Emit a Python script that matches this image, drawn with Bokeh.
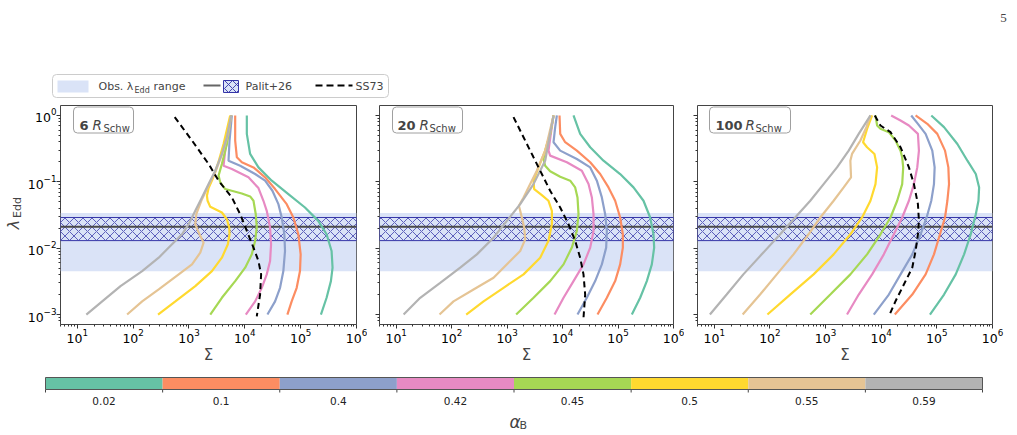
import math
from bokeh.plotting import figure
from bokeh.layouts import column, row
from bokeh.models import (BoxAnnotation, Span, Label, PolyAnnotation, FixedTicker,
                          Range1d, CustomJSTickFormatter)
from bokeh.core.properties import value
from bokeh.embed import file_html
from bokeh.resources import INLINE

# ---------------- data ----------------
ALPHA_B = ["0.02", "0.1", "0.4", "0.42", "0.45", "0.5", "0.55", "0.59"]
COLORS = ["#66c2a5", "#fc8d62", "#8da0cb", "#e78ac3", "#a6d854", "#ffd92f", "#e5c494", "#b3b3b3"]
RADII = ["6", "20", "100"]
OBS_RANGE = [0.0045, 0.034]
PALIT_RANGE = [0.013, 0.029]
PALIT_MEDIAN = 0.021
X_TICKS = [1e1, 1e2, 1e3, 1e4, 1e5, 1e6]
Y_TICKS = [1e-3, 1e-2, 1e-1, 1e0]

# --- 6 R_Schw ---
l6_a002 = [0.001, 0.00179, 0.00319, 0.00508, 0.00908, 0.0162, 0.0258, 0.041, 0.0653, 0.104, 0.165, 0.263, 0.528, 1.0]
s6_a002 = [230700, 291200, 348100, 372600, 358000, 291200, 206700, 119500, 60250, 30360, 17540, 12450, 10860, 10860]
l6_a01 = [0.001, 0.00158, 0.00253, 0.00452, 0.00807, 0.0162, 0.029, 0.0461, 0.0778, 0.117, 0.165, 0.197, 0.234, 0.419, 1.0]
s6_a01 = [57800, 69040, 84860, 97270, 100000, 90870, 73970, 56230, 34820, 23070, 14290, 8840, 7200, 6718, 6718]
l6_a04 = [0.001, 0.00158, 0.00253, 0.00452, 0.00908, 0.0162, 0.029, 0.0461, 0.0733, 0.104, 0.131, 0.175, 0.208, 0.419, 1.0]
s6_a04 = [25410, 34820, 42740, 48980, 52470, 51080, 45780, 39930, 31190, 23070, 15300, 8260, 5107, 5323, 5858]
l6_a042 = [0.001, 0.00158, 0.00253, 0.00403, 0.0064, 0.01146, 0.0205, 0.0366, 0.0518, 0.0805, 0.117, 0.156, 0.175, 0.295, 0.528, 1.0]
s6_a042 = [10420, 15300, 20130, 24700, 28340, 29520, 28340, 24700, 21530, 17540, 11620, 5858, 4157, 4454, 5107, 5700]
l6_a045 = [0.001, 0.00179, 0.00319, 0.00508, 0.00807, 0.0129, 0.0205, 0.0325, 0.0518, 0.0602, 0.0668, 0.0778, 0.098, 0.124, 0.186, 0.372, 1.0]
s6_a045 = [2404, 3882, 6718, 10140, 13340, 15300, 16370, 15700, 14290, 12450, 8840, 4454, 3630, 3388, 3882, 4773, 5700]
l6_a05 = [0.001, 0.00158, 0.00268, 0.00452, 0.00719, 0.01146, 0.0162, 0.0205, 0.0273, 0.0345, 0.042, 0.0518, 0.0617, 0.0805, 0.11, 0.186, 0.372, 1.0]
s6_a05 = [279, 570, 1297, 2575, 3882, 4970, 5323, 5250, 4773, 3882, 2404, 2154, 2096, 2244, 2648, 3296, 4157, 5470]
l6_a055 = [0.001, 0.00158, 0.00239, 0.00403, 0.0057, 0.00856, 0.0121, 0.0182, 0.023, 0.0325, 0.0518, 0.0925, 0.147, 0.263, 0.47, 1.0]
s6_a055 = [78, 145, 287, 654, 1132, 1593, 1828, 1449, 1297, 1352, 1660, 2307, 3034, 3937, 4840, 5700]
l6_a059 = [0.001, 0.00158, 0.00268, 0.00452, 0.00719, 0.01146, 0.0162, 0.023, 0.0366, 0.0582, 0.0925, 0.147, 0.263, 0.47, 1.0]
s6_a059 = [14.5, 27.9, 59.4, 145, 287, 497, 750, 986, 1297, 1708, 2244, 2951, 3882, 4773, 5700]
l6_ss73 = [0.944, 0.419, 0.186, 0.104, 0.0582, 0.0325, 0.0182, 0.0102, 0.0064, 0.00403, 0.002, 0.00094]
s6_ss73 = [555, 1132, 2244, 3388, 5858, 8260, 10860, 14290, 17540, 19580, 18760, 16370]

# --- 20 R_Schw ---
l20_a002 = [0.001, 0.00179, 0.00319, 0.0057, 0.0102, 0.0162, 0.029, 0.0518, 0.0824, 0.131, 0.208, 0.332, 0.528, 1.0]
s20_a002 = [177400, 250600, 330400, 406700, 448100, 435700, 379500, 287700, 190100, 109200, 54700, 31480, 20750, 15740]
l20_a01 = [0.001, 0.00179, 0.00319, 0.0057, 0.0102, 0.0162, 0.029, 0.0518, 0.0824, 0.131, 0.197, 0.295, 0.395, 0.528, 1.0]
s20_a01 = [42660, 62810, 88750, 109200, 122100, 122100, 109200, 88750, 67300, 47640, 31480, 18080, 11140, 9060, 8810]
l20_a04 = [0.001, 0.00179, 0.00319, 0.0057, 0.0102, 0.0182, 0.0325, 0.0582, 0.104, 0.165, 0.221, 0.295, 0.395, 0.667, 1.0]
s20_a04 = [18580, 27370, 38710, 51050, 61090, 62810, 58610, 51050, 41480, 31480, 18080, 9060, 6870, 7360, 7890]
l20_a042 = [0.001, 0.00179, 0.00319, 0.0057, 0.0102, 0.0182, 0.0325, 0.0582, 0.0925, 0.147, 0.197, 0.248, 0.295, 0.528, 1.0]
s20_a042 = [7160, 10400, 15740, 23830, 31480, 36140, 36140, 33730, 29380, 22240, 11940, 5970, 5572, 6140, 6870]
l20_a045 = [0.001, 0.00179, 0.00319, 0.0057, 0.0102, 0.0182, 0.0325, 0.0582, 0.0824, 0.104, 0.119, 0.144, 0.175, 0.221, 0.332, 0.528, 1.0]
s20_a045 = [1456, 2992, 5970, 10400, 14690, 18080, 19370, 18580, 16870, 13710, 9060, 5970, 4853, 4529, 5058, 5970, 6870]
l20_a05 = [0.001, 0.00158, 0.00253, 0.00403, 0.00719, 0.0129, 0.023, 0.0366, 0.0518, 0.0631, 0.0778, 0.104, 0.165, 0.295, 0.528, 1.0]
s20_a05 = [183, 376, 861, 1977, 3946, 5572, 6412, 6412, 5572, 4227, 3076, 2992, 3681, 4853, 5970, 6870]
l20_a055 = [0.001, 0.00158, 0.00239, 0.00358, 0.0064, 0.00908, 0.0136, 0.0205, 0.0366, 0.0435, 0.0582, 0.0925, 0.147, 0.295, 1.0]
s20_a055 = [60.4, 108, 248, 569, 1135, 1722, 2118, 2032, 1722, 1630, 1977, 2606, 3436, 4853, 6870]
l20_a059 = [0.001, 0.00179, 0.00301, 0.00508, 0.00807, 0.0144, 0.0258, 0.0461, 0.0925, 0.208, 1.0]
s20_a059 = [13.6, 27.1, 62.1, 142.6, 284.7, 569, 989, 1722, 2992, 4853, 6870]
l20_ss73 = [0.944, 0.47, 0.234, 0.131, 0.0733, 0.041, 0.023, 0.0129, 0.00719, 0.00403, 0.002, 0.00089]
s20_ss73 = [1303, 1977, 2992, 4227, 5970, 9060, 12790, 16870, 20750, 23830, 25550, 23830]

# --- 100 R_Schw ---
l100_a002 = [0.001, 0.002, 0.00403, 0.00807, 0.0162, 0.0325, 0.0518, 0.0824, 0.131, 0.208, 0.372, 0.667, 1.0]
s100_a002 = [75200, 134500, 218300, 308500, 406700, 501100, 559500, 575200, 501100, 354200, 233800, 134500, 79450]
l100_a01 = [0.001, 0.002, 0.00403, 0.00807, 0.0162, 0.029, 0.0518, 0.0925, 0.165, 0.295, 0.528, 0.748, 1.0]
s100_a01 = [17580, 36140, 62810, 88750, 113800, 140200, 154500, 165500, 161000, 140200, 101900, 67300, 41480]
l100_a04 = [0.001, 0.002, 0.00403, 0.00807, 0.0162, 0.029, 0.0518, 0.0925, 0.165, 0.295, 0.528, 0.748, 1.0]
s100_a04 = [7360, 13710, 22240, 36140, 51050, 65510, 79450, 88750, 91240, 82810, 62810, 45700, 34640]
l100_a042 = [0.001, 0.002, 0.00403, 0.00807, 0.0162, 0.029, 0.0518, 0.0925, 0.165, 0.295, 0.528, 0.706, 0.84, 1.0]
s100_a042 = [2432, 3946, 6868, 11140, 16870, 23830, 31480, 38710, 44460, 47640, 45700, 31480, 22240, 15100]
l100_a045 = [0.001, 0.002, 0.00403, 0.00807, 0.0162, 0.029, 0.0518, 0.0925, 0.165, 0.234, 0.295, 0.419, 0.56, 0.629, 0.706, 1.0]
s100_a045 = [531, 1217, 2792, 5572, 9700, 14690, 19370, 23830, 24850, 23830, 22240, 18080, 13710, 9700, 8450, 7890]
l100_a05 = [0.001, 0.002, 0.00403, 0.00807, 0.0162, 0.029, 0.0518, 0.0925, 0.165, 0.263, 0.332, 0.395, 0.629, 1.0]
s100_a05 = [90.3, 231, 609, 1397, 2792, 4529, 6412, 7890, 8450, 7566, 5572, 4723, 5572, 6868]
l100_a055 = [0.001, 0.002, 0.00403, 0.00807, 0.0162, 0.029, 0.0518, 0.0824, 0.117, 0.208, 0.263, 0.419, 0.667, 1.0]
s100_a055 = [32.4, 66.6, 133, 265.7, 495, 804, 1397, 2117, 2871, 2792, 2991, 4226, 5423, 6412]
l100_a059 = [0.001, 0.002, 0.00403, 0.00807, 0.0162, 0.029, 0.0518, 0.0925, 0.165, 0.295, 0.528, 1.0]
s100_a059 = [8.36, 16.7, 33.3, 71.3, 152.8, 284.5, 530.9, 923, 1606, 2605, 3946, 6412]
l100_ss73 = [1.0, 0.706, 0.56, 0.332, 0.165, 0.0925, 0.0461, 0.0258, 0.0162, 0.00908, 0.00508, 0.00284, 0.00159, 0.00094]
s100_ss73 = [7670, 9700, 14690, 22240, 31480, 38710, 45700, 47640, 45700, 41480, 36140, 25550, 18080, 13710]

PANELS = [
    ([s6_a002, s6_a01, s6_a04, s6_a042, s6_a045, s6_a05, s6_a055, s6_a059],
     [l6_a002, l6_a01, l6_a04, l6_a042, l6_a045, l6_a05, l6_a055, l6_a059], s6_ss73, l6_ss73),
    ([s20_a002, s20_a01, s20_a04, s20_a042, s20_a045, s20_a05, s20_a055, s20_a059],
     [l20_a002, l20_a01, l20_a04, l20_a042, l20_a045, l20_a05, l20_a055, l20_a059], s20_ss73, l20_ss73),
    ([s100_a002, s100_a01, s100_a04, s100_a042, s100_a045, s100_a05, s100_a055, s100_a059],
     [l100_a002, l100_a01, l100_a04, l100_a042, l100_a045, l100_a05, l100_a055, l100_a059], s100_ss73, l100_ss73),
]

# ---------------- style / geometry ----------------
FONT = "DejaVu Sans"
OBS_COLOR = "#dae3f7"
HATCH_COLOR = "#3535a8"
XLO, XHI = 5.0, 1e6
YLO, YHI = 10 ** -3.15, 10 ** 0.15
FH = 219
BOTTOM = 44
YLAB_W = 24
GEOM = [(36, 296, 11), (12, 294, 11), (13, 295, 25)]
BOXES = [(13, 73, 19, 32, 43), (13, 83, 18, 40, 50), (12, 93, 18, 48, 58)]
X_MINOR = [m * 10.0 ** e for e in range(0, 6) for m in range(2, 10)]
Y_MINOR = [m * 10.0 ** e for e in range(-4, 0) for m in range(2, 10)]


def fx(off, fw):
    lx0, lx1 = math.log10(XLO), math.log10(XHI)
    return 10 ** (lx0 + off / fw * (lx1 - lx0))


def fy(off):
    ly0, ly1 = math.log10(YLO), math.log10(YHI)
    return 10 ** (ly1 - off / FH * (ly1 - ly0))


def bare(fig):
    fig.outline_line_color = None
    fig.xgrid.visible = False
    fig.ygrid.visible = False


# y-axis label strip (lambda_Edd)
ylab = figure(width=YLAB_W, height=FH + BOTTOM, x_range=Range1d(0, YLAB_W), y_range=Range1d(0, FH),
              min_border_left=0, min_border_right=0, min_border_top=0, min_border_bottom=BOTTOM,
              x_axis_location=None, y_axis_location=None,
              output_backend="svg", toolbar_location=None)
bare(ylab)
ylab.add_layout(Label(x=13, y=100, text="λ", angle=math.pi / 2, text_align="center",
                      text_baseline="middle", text_font=FONT, text_font_style="italic",
                      text_font_size="16px"))
ylab.add_layout(Label(x=16.5, y=117, text="Edd", angle=math.pi / 2, text_align="center",
                      text_baseline="middle", text_font=FONT, text_font_size="11px"))

panels = [ylab]
for i, (sigs, lams, ss_s, ss_l) in enumerate(PANELS):
    bl, fw, br = GEOM[i]
    p = figure(frame_width=fw, frame_height=FH, min_border_left=bl, min_border_right=br,
               min_border_top=0, min_border_bottom=BOTTOM,
               x_axis_type="log", y_axis_type="log",
               x_range=Range1d(XLO, XHI), y_range=Range1d(YLO, YHI),
               output_backend="svg", toolbar_location=None)
    p.xgrid.visible = False
    p.ygrid.visible = False
    p.outline_line_color = "#444444"
    p.outline_line_width = 1
    p.outline_line_alpha = 1.0

    p.add_layout(BoxAnnotation(bottom=OBS_RANGE[0], top=OBS_RANGE[1], fill_color=OBS_COLOR,
                               fill_alpha=1.0, line_color=None, level="underlay"))
    p.add_layout(BoxAnnotation(bottom=PALIT_RANGE[0], top=PALIT_RANGE[1], fill_color=None,
                               line_color=HATCH_COLOR, line_width=1, line_alpha=1.0,
                               hatch_pattern="x", hatch_color=HATCH_COLOR, hatch_scale=9,
                               hatch_weight=0.9, hatch_alpha=0.85, level="underlay"))
    p.add_layout(Span(location=PALIT_MEDIAN, dimension="width", line_color="#4a4a4a",
                      line_width=2, line_alpha=1.0, level="underlay"))

    for s, l, c in zip(sigs, lams, COLORS):
        p.line(s, l, line_color=c, line_width=2.2)
    p.line(ss_s, ss_l, line_color="black", line_width=2, line_dash="6 4")

    p.xaxis.ticker = FixedTicker(ticks=X_TICKS, minor_ticks=X_MINOR)
    p.yaxis.ticker = FixedTicker(ticks=Y_TICKS, minor_ticks=Y_MINOR)
    for ax in p.axis:
        ax.axis_line_color = None
        ax.major_tick_line_color = "#333333"
        ax.minor_tick_line_color = "#333333"
        ax.major_tick_out = 4
        ax.major_tick_in = 0
        ax.minor_tick_out = 2
        ax.minor_tick_in = 0
        ax.major_label_text_font = FONT
        ax.major_label_text_font_size = "12.5px"
        ax.major_label_text_color = "black"
    p.yaxis.major_label_standoff = 0
    p.xaxis.major_label_standoff = 0
    p.xaxis.axis_label = "Σ"
    p.xaxis.axis_label_text_font = FONT
    p.xaxis.axis_label_text_font_style = "normal"
    p.xaxis.axis_label_text_font_size = "15px"
    p.xaxis.axis_label_standoff = 0
    if i > 0:
        p.yaxis.formatter = CustomJSTickFormatter(code="return ''")

    b_l, b_r, t_num, t_r, t_sub = BOXES[i]
    p.add_layout(BoxAnnotation(left=fx(b_l, fw), right=fx(b_r, fw), top=fy(1.5), bottom=fy(27.5),
                               fill_color="white", fill_alpha=0.9, line_color="#a0a0a0",
                               line_alpha=1.0, line_width=1, border_radius=4))
    p.add_layout(Label(x=fx(t_num, fw), y=fy(19.5), text=RADII[i], text_font=FONT,
                       text_font_style="bold", text_font_size="13px", text_baseline="alphabetic"))
    p.add_layout(Label(x=fx(t_r, fw), y=fy(19.5), text="R", text_font=FONT,
                       text_font_style="italic", text_font_size="13.5px", text_baseline="alphabetic"))
    p.add_layout(Label(x=fx(t_sub, fw), y=fy(23), text="Schw", text_font=FONT,
                       text_font_size="10px", text_baseline="alphabetic"))
    panels.append(p)

# ---------------- top strip: legend + page number ----------------
top = figure(width=1017, height=105, x_range=Range1d(0, 1017), y_range=Range1d(0, 105),
             min_border_left=0, min_border_right=0, min_border_top=0, min_border_bottom=0,
             x_axis_location=None, y_axis_location=None,
             output_backend="svg", toolbar_location=None)
bare(top)
top.add_layout(BoxAnnotation(left=52, right=388, bottom=8, top=31, fill_color="white", fill_alpha=1.0,
                             line_color="#cccccc", line_alpha=1.0, line_width=1, border_radius=4))
top.add_layout(BoxAnnotation(left=57, right=88, bottom=13, top=25, fill_color=OBS_COLOR,
                             fill_alpha=1.0, line_color=None))
top.add_layout(Label(x=98, y=19, text="Obs. λ", text_font=FONT, text_font_size="11px",
                     text_baseline="middle"))
top.add_layout(Label(x=134, y=15.5, text="Edd", text_font=FONT, text_font_size="8px",
                     text_baseline="middle"))
top.add_layout(Label(x=153, y=19, text="range", text_font=FONT, text_font_size="11px",
                     text_baseline="middle"))
top.add_layout(PolyAnnotation(xs=[203, 220], ys=[20, 20], line_color="#666666", line_width=2,
                              line_alpha=1.0, fill_color=None))
top.add_layout(BoxAnnotation(left=223, right=238, bottom=13, top=25, fill_color=OBS_COLOR,
                             fill_alpha=1.0, line_color=HATCH_COLOR, line_alpha=1.0, line_width=1,
                             hatch_pattern="x", hatch_color=HATCH_COLOR, hatch_scale=8,
                             hatch_weight=0.9))
top.add_layout(Label(x=245, y=19, text="Palit+26", text_font=FONT, text_font_size="11px",
                     text_baseline="middle"))
top.add_layout(PolyAnnotation(xs=[315, 352], ys=[20, 20], line_color="black", line_width=2,
                              line_alpha=1.0, line_dash="7 4", fill_color=None))
top.add_layout(Label(x=355, y=19, text="SS73", text_font=FONT, text_font_size="11px",
                     text_baseline="middle"))
top.add_layout(Label(x=1003, y=88, text="5", text_font="Liberation Serif", text_font_size="13px",
                     text_align="center", text_baseline="middle"))

# ---------------- colour bar ----------------
CB_X0, CB_X1 = 45, 982
seg_w = (CB_X1 - CB_X0) / len(ALPHA_B)
centers = [k + 0.5 for k in range(len(ALPHA_B))]
bounds = list(range(len(ALPHA_B) + 1))
cb = figure(width=1017, height=67,
            x_range=Range1d(-CB_X0 / seg_w, (1017 - CB_X0) / seg_w), y_range=Range1d(0, 67),
            min_border_left=0, min_border_right=0, min_border_top=0, min_border_bottom=0,
            x_axis_location=None, y_axis_location=None,
            output_backend="svg", toolbar_location=None)
bare(cb)
cb.vbar(x=centers, bottom=46, top=58, width=1.0, fill_color=COLORS, line_color=None)
cb.segment(x0=bounds, y0=[46] * len(bounds), x1=bounds, y1=[43] * len(bounds),
           line_color="#444444", line_width=1)
cb.add_layout(BoxAnnotation(left=0, right=len(ALPHA_B), bottom=46, top=58, fill_color=None,
                            line_color="#555555", line_alpha=1.0, line_width=1))
cb.text(x=centers, y=35, text=ALPHA_B, text_align="center", text_baseline="middle",
        text_font=value(FONT), text_font_size="10.5px", text_color="#222222")
cb.add_layout(Label(x=(509 - CB_X0) / seg_w, y=14, text="α", text_font=FONT, text_font_style="italic",
                    text_font_size="17px", text_baseline="middle"))
cb.add_layout(Label(x=(519 - CB_X0) / seg_w, y=10, text="B", text_font=FONT, text_font_size="11px",
                    text_baseline="middle"))

layout = column(top, row(*panels), cb)
open("out.html", "w").write(file_html(layout, INLINE))
